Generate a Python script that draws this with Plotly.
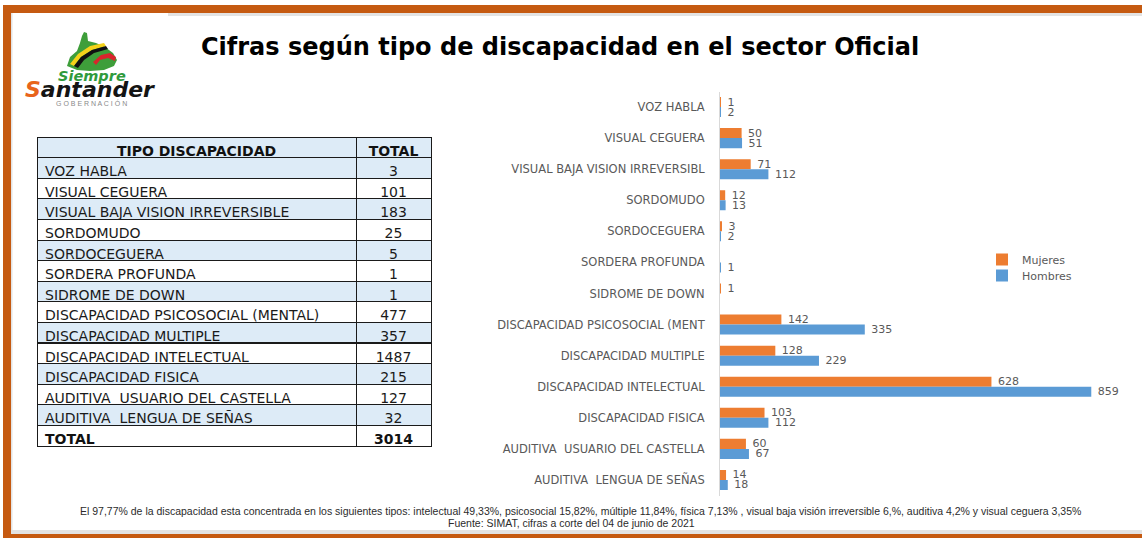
import plotly.graph_objects as go

W, H = 1142, 538

# ---- data -------------------------------------------------------------
chart_labels = [
    "VOZ HABLA", "VISUAL CEGUERA", "VISUAL BAJA VISION IRREVERSIBL", "SORDOMUDO",
    "SORDOCEGUERA", "SORDERA PROFUNDA", "SIDROME DE DOWN",
    "DISCAPACIDAD PSICOSOCIAL (MENT", "DISCAPACIDAD MULTIPLE",
    "DISCAPACIDAD INTELECTUAL", "DISCAPACIDAD FISICA",
    "AUDITIVA\u00a0\u00a0USUARIO DEL CASTELLA", "AUDITIVA\u00a0\u00a0LENGUA DE SEÑAS",
]
mujeres = [1, 50, 71, 12, 3, None, 1, 142, 128, 628, 103, 60, 14]
hombres = [2, 51, 112, 13, 2, 1, None, 335, 229, 859, 112, 67, 18]

table_types = [
    "VOZ HABLA", "VISUAL CEGUERA", "VISUAL BAJA VISION IRREVERSIBLE", "SORDOMUDO",
    "SORDOCEGUERA", "SORDERA PROFUNDA", "SIDROME DE DOWN",
    "DISCAPACIDAD PSICOSOCIAL (MENTAL)", "DISCAPACIDAD MULTIPLE",
    "DISCAPACIDAD INTELECTUAL", "DISCAPACIDAD FISICA",
    "AUDITIVA\u00a0\u00a0USUARIO DEL CASTELLA", "AUDITIVA\u00a0\u00a0LENGUA DE SEÑAS",
]
table_totals = [3, 101, 183, 25, 5, 1, 1, 477, 357, 1487, 215, 127, 32]
table_header = ["TIPO DISCAPACIDAD", "TOTAL"]
total_label = "TOTAL"

title_text = "Cifras según tipo de discapacidad en el sector Oficial"
note_line1 = ("El 97,77% de la discapacidad esta concentrada en los siguientes tipos: "
              "intelectual 49,33%, psicosocial 15,82%, múltiple 11,84%, física 7,13% , "
              "visual baja visión irreversible 6,%, auditiva 4,2% y visual ceguera 3,35%")
note_line2 = "Fuente: SIMAT, cifras a corte del 04 de junio de 2021"

ORANGE = "#ED7D31"
BLUE = "#5B9BD5"
LABEL_GREY = "#595959"
FRAME = "#C55A11"
ROW = 20.6          # table row height in px
TABLE_TOP = 137
TABLE_LEFT, TABLE_RIGHT = 37, 431


def px(x):
    return x / W


def py(y):
    return 1 - y / H


fig = go.Figure()

# ---- bars ---------------------------------------------------------------
for name, vals, col, leg in [("Mujeres", mujeres, ORANGE, "legend"),
                             ("Hombres", hombres, BLUE, "legend2")]:
    fig.add_trace(go.Bar(
        name=name, y=chart_labels, x=vals, orientation="h",
        marker=dict(color=col, line=dict(width=0)),
        text=vals, texttemplate=" %{x}", textposition="outside",
        textfont=dict(family="DejaVu Sans", size=11, color=LABEL_GREY),
        constraintext="none", cliponaxis=False, legend=leg,
    ))

# ---- table --------------------------------------------------------------
n = len(table_types)
row_fill = ["#DDEBF7" if i % 2 == 0 else "#FFFFFF" for i in range(n)]
body_bottom = TABLE_TOP + ROW * (n + 1)

fig.add_trace(go.Table(
    domain=dict(x=[px(TABLE_LEFT), px(TABLE_RIGHT)], y=[py(body_bottom + 2), py(TABLE_TOP)]),
    columnwidth=[319, 75],
    header=dict(
        values=table_header,
        fill_color="#DDEBF7", line=dict(color="#1a1a1a", width=1),
        align="center", height=ROW,
        font=dict(family="DejaVu Sans", size=14, color="#111111", weight="bold"),
    ),
    cells=dict(
        values=[table_types, [str(v) for v in table_totals]],
        fill_color=[row_fill, row_fill], line=dict(color="#1a1a1a", width=1),
        align=["left", "center"], height=ROW,
        font=dict(family="DejaVu Sans", size=14, color="#1a1a1a"),
    ),
))

# bold total row
fig.add_trace(go.Table(
    domain=dict(x=[px(TABLE_LEFT), px(TABLE_RIGHT)], y=[py(body_bottom + ROW + 2), py(body_bottom)]),
    columnwidth=[319, 75],
    header=dict(
        values=[total_label, str(sum(table_totals))],
        fill_color="#FFFFFF", line=dict(color="#1a1a1a", width=1),
        align=["left", "center"], height=ROW,
        font=dict(family="DejaVu Sans", size=14, color="#111111", weight="bold"),
    ),
    cells=dict(values=[[], []], height=ROW),
))

# ---- frame and logo shapes ---------------------------------------------
shapes = [
    dict(type="rect", xref="paper", yref="paper", x0=px(3), x1=1, y0=py(13), y1=py(5),
         fillcolor=FRAME, line=dict(width=0), layer="below"),
    dict(type="rect", xref="paper", yref="paper", x0=px(3), x1=px(11), y0=0, y1=py(5),
         fillcolor=FRAME, line=dict(width=0), layer="below"),
    dict(type="rect", xref="paper", yref="paper", x0=px(3), x1=1, y0=0, y1=py(534),
         fillcolor=FRAME, line=dict(width=0), layer="below"),
    dict(type="rect", xref="paper", yref="paper", x0=px(168), x1=1, y0=py(16), y1=py(13),
         fillcolor="#E3E3E3", line=dict(width=0), layer="below"),
    dict(type="rect", xref="paper", yref="paper", x0=px(11), x1=1, y0=py(534), y1=py(530),
         fillcolor="#E3E3E3", line=dict(width=0), layer="below"),
    dict(type="rect", xref="paper", yref="paper", x0=px(11), x1=px(12.5), y0=py(534), y1=py(13),
         fillcolor="#E3E3E3", line=dict(width=0), layer="below"),
]


def path(points):
    return "M " + " L ".join(f"{px(x):.5f},{py(y):.5f}" for x, y in points) + " Z"


# emblem: green territory, yellow/black stripes, red arc
shapes.append(dict(type="path", xref="paper", yref="paper",
                   path=path([(67, 66), (70, 57), (77, 51), (80, 43), (82, 36), (84, 32),
                              (87, 33), (88, 41), (96, 43), (105, 47), (113, 53), (117, 60),
                              (114, 66), (104, 70), (90, 71), (77, 70)]),
                   fillcolor="#3E9E3A", line=dict(width=0)))
shapes.append(dict(type="path", xref="paper", yref="paper",
                   path=path([(70, 64), (78, 54), (90, 46), (104, 43), (106, 46), (92, 50),
                              (81, 57), (74, 66)]),
                   fillcolor="#F4D21A", line=dict(width=0)))
shapes.append(dict(type="path", xref="paper", yref="paper",
                   path=path([(74, 66), (81, 57), (92, 50), (106, 46), (108, 49), (94, 53),
                              (84, 60), (78, 68)]),
                   fillcolor="#111111", line=dict(width=0)))
shapes.append(dict(type="path", xref="paper", yref="paper",
                   path=path([(93, 62), (101, 55), (110, 53), (116, 57), (115, 61), (108, 58),
                              (100, 60), (96, 65)]),
                   fillcolor="#D8262C", line=dict(width=0)))


def note(text, x, y, font):
    return dict(text=text, x=px(x), y=py(y), xref="paper", yref="paper", showarrow=False,
                xanchor="center", yanchor="middle", font=font)


annotations = [
    note(f"<b>{title_text}</b>", 560, 47,
         dict(family="DejaVu Sans", size=24, color="#000000")),
    note("<b><i>Siempre</i></b>", 92, 76,
         dict(family="DejaVu Sans", size=14.5, color="#2F9A3C")),
    note("<b><i><span style='color:#E8641B'>S</span>antander</i></b>", 90, 89,
         dict(family="DejaVu Sans", size=22, color="#141414")),
    note("G O B E R N A C I Ó N", 91, 103.5,
         dict(family="Liberation Sans", size=7, color="#8A8A8A")),
    note(note_line1, 580, 511,
         dict(family="Liberation Sans Narrow, Liberation Sans", size=10.5, color="#2b2b2b")),
    note(note_line2, 571, 523,
         dict(family="Liberation Sans Narrow, Liberation Sans", size=10.5, color="#2b2b2b")),
]

legend_style = dict(xanchor="left", yanchor="top",
                    font=dict(family="DejaVu Sans", size=11, color=LABEL_GREY),
                    itemwidth=30, bgcolor="rgba(0,0,0,0)")

fig.update_layout(
    width=W, height=H,
    margin=dict(l=0, r=0, t=0, b=0),
    paper_bgcolor="white", plot_bgcolor="white",
    barmode="group", bargap=0.355, bargroupgap=0,
    shapes=shapes, annotations=annotations,
    showlegend=True,
    legend=dict(x=px(982), y=py(245), **legend_style),
    legend2=dict(x=px(982), y=py(261), **legend_style),
    xaxis=dict(domain=[px(720), px(1109)], range=[0, 900], visible=False, fixedrange=True),
    yaxis=dict(domain=[py(495.5), py(91.5)], autorange="reversed", type="category",
               showline=True, linecolor="#D9D9D9", linewidth=1, ticks="",
               showgrid=False, ticklabelstandoff=12,
               tickfont=dict(family="DejaVu Sans", size=11.5, color=LABEL_GREY)),
)

fig.write_html("out.html")
